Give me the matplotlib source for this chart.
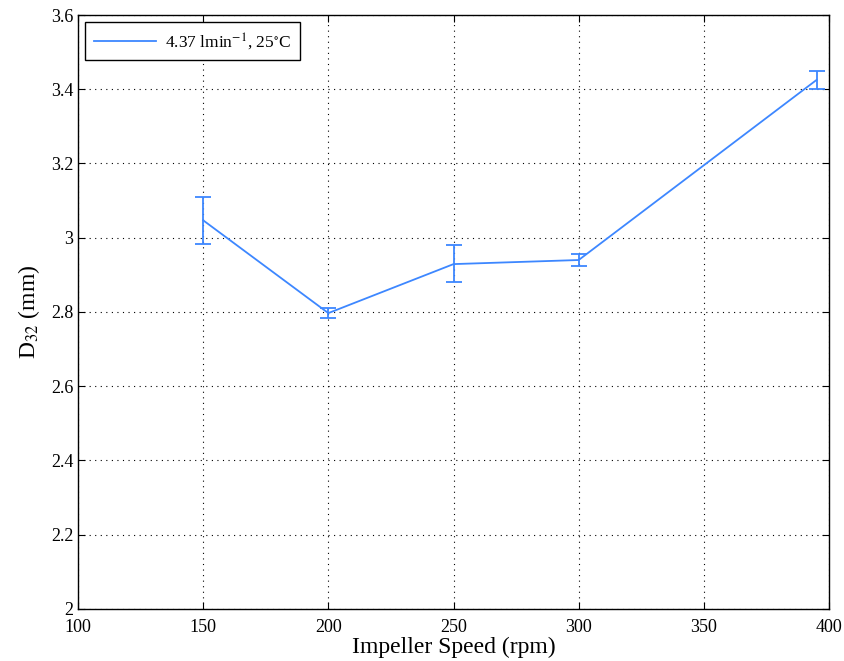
import numpy as np
import matplotlib.pyplot as plt

plt.rcParams['font.family'] = ['Liberation Serif', 'DejaVu Serif']
plt.rcParams['mathtext.fontset'] = 'stix'

# данные
speed = [150, 200, 250, 300, 395]
d32 = [3.047, 2.797, 2.929, 2.94, 3.425]
err_low = [3.047 - 2.983, 2.797 - 2.785, 2.929 - 2.88, 2.94 - 2.925, 3.425 - 3.40]
err_high = [3.11 - 3.047, 2.81 - 2.797, 2.98 - 2.929, 2.955 - 2.94, 3.45 - 3.425]

x_ticks = [100, 150, 200, 250, 300, 350, 400]
y_ticks = [2, 2.2, 2.4, 2.6, 2.8, 3, 3.2, 3.4, 3.6]
y_labels = ['2', '2.2', '2.4', '2.6', '2.8', '3', '3.2', '3.4', '3.6']

color = '#3d87ff'

fig = plt.figure(figsize=(8.45, 6.61), dpi=100)
ax = fig.add_axes([0.0923, 0.0787, 0.8888, 0.8986])

ax.errorbar(speed, d32, yerr=[err_low, err_high], color=color, lw=1.3,
            capsize=6, capthick=1.3, elinewidth=1.3)
# линия только для легенды
ax.plot([], [], color=color, lw=1.3, label=r'4.37 lmin$^{-1}$, 25$^{\circ}$C')

ax.set_xlim(100, 400)
ax.set_ylim(2, 3.6)
ax.set_xticks(x_ticks)
ax.set_yticks(y_ticks)
ax.set_yticklabels(y_labels)
ax.tick_params(direction='in', labelsize=13, top=True, right=True, length=5)
ax.tick_params(axis='x', pad=7.5)
ax.grid(True, color='black', linestyle=(0, (1, 4)), linewidth=0.8)
for s in ax.spines.values():
    s.set_linewidth(1.0)

ax.set_xlabel('Impeller Speed (rpm)', fontsize=17, labelpad=0.5)
ax.set_ylabel(r'D$_{32}$ (mm)', fontsize=17, labelpad=6)

leg = ax.legend(loc='upper left', fontsize=12.5, fancybox=False, framealpha=1,
                edgecolor='black', handlelength=3.6, borderaxespad=0.4,
                handletextpad=0.5, borderpad=0.5)
leg.get_frame().set_linewidth(1.0)

fig.savefig('out.png', dpi=100)
